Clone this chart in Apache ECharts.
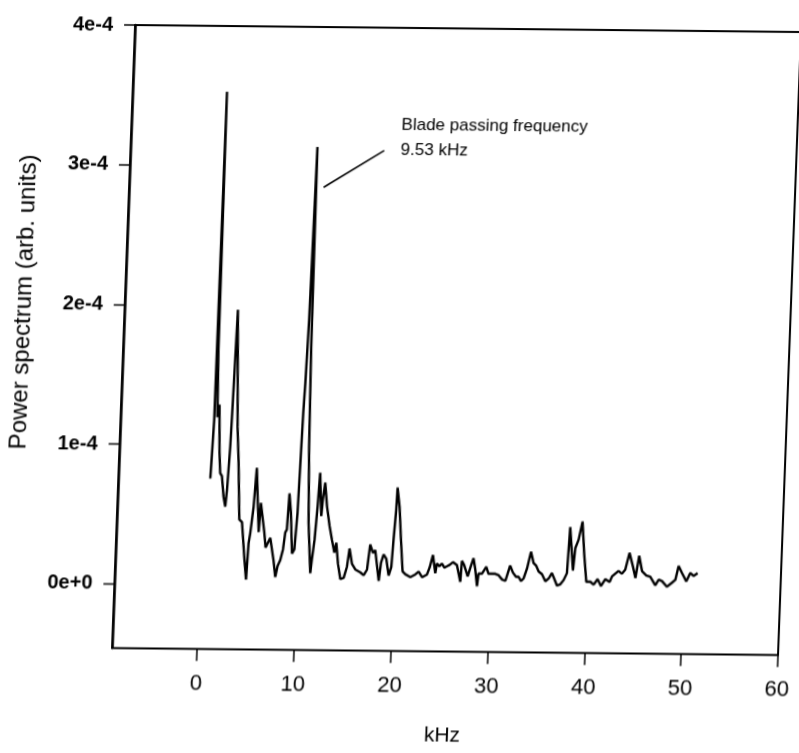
<!DOCTYPE html>
<html><head><meta charset="utf-8">
<script src="https://cdn.jsdelivr.net/npm/echarts@6/dist/echarts.min.js"></script>
<style>
html,body{margin:0;padding:0;background:#fff;overflow:hidden}
#chart{width:799px;height:753px;transform-origin:112px 648px;transform:matrix(1,0.0105,-0.037,1,0,0);}
</style></head><body><div id="chart"></div>
<script>
// Frequency (kHz) of each spectrum point
const freqKHz = [
0.70,0.80,0.88,0.95,1.05,1.20,1.37,1.55,1.70,1.89,2.14,2.35,2.47,2.64,2.74,2.91,3.32,3.56,3.85,4.14,
4.54,4.77,4.90,5.03,5.28,5.47,5.73,5.90,6.02,6.48,6.67,7.12,7.54,7.78,7.98,8.23,8.48,8.65,8.80,8.94,
9.16,9.42,9.65,9.84,9.95,10.05,10.15,10.30,10.50,10.62,10.78,11.02,11.38,11.50,11.70,11.89,12.03,12.30,12.41,12.59,
12.86,13.20,13.50,13.79,13.96,14.21,14.51,14.85,15.15,15.35,15.66,16.02,16.54,16.90,17.23,17.47,17.78,18.01,18.48,18.65,
18.89,19.18,19.48,19.73,19.86,20.02,20.08,20.36,20.62,20.91,21.20,21.73,22.24,22.57,22.94,23.44,23.69,23.99,24.29,24.43,
24.71,24.95,25.21,25.48,25.74,26.08,26.50,26.91,27.00,27.25,27.65,27.89,28.19,28.41,28.65,28.76,29.11,29.54,29.79,30.14,
30.49,30.84,31.21,31.56,31.80,32.00,32.31,32.64,32.91,33.18,33.44,33.75,34.10,34.41,34.70,34.96,35.32,35.69,36.02,36.34,
36.72,36.91,37.25,37.57,37.89,38.06,38.50,38.66,38.97,39.31,39.60,39.92,40.34,40.69,41.08,41.45,41.88,42.33,42.56,42.88,
43.21,43.57,43.90,44.28,44.69,44.98,45.29,45.64,46.09,46.51,47.06,47.38,47.74,48.27,48.78,49.11,49.40,49.77,50.25,50.62,
50.99,51.39
];
// Power spectrum, in units of 1e-4 (arb. units)
const powerE4 = [
0.76,0.99,1.18,3.53,1.68,1.20,1.29,0.95,0.80,0.78,0.63,0.56,0.68,0.99,1.33,1.97,1.13,0.88,0.47,0.45,
0.18,0.04,0.30,0.37,0.56,0.84,0.56,0.38,0.59,0.38,0.27,0.34,0.18,0.06,0.14,0.18,0.26,0.38,0.40,0.66,
0.52,0.23,0.26,0.52,0.90,1.24,1.45,1.90,3.14,1.70,1.00,0.45,0.09,0.19,0.33,0.57,0.81,0.50,0.62,0.74,
0.57,0.43,0.33,0.24,0.31,0.16,0.05,0.06,0.14,0.27,0.16,0.12,0.10,0.08,0.12,0.30,0.24,0.26,0.04,0.17,
0.23,0.20,0.08,0.14,0.34,0.55,0.71,0.57,0.34,0.11,0.09,0.07,0.09,0.11,0.07,0.09,0.14,0.23,0.10,0.17,
0.15,0.17,0.14,0.15,0.16,0.18,0.16,0.04,0.19,0.16,0.08,0.14,0.21,0.13,0.01,0.10,0.10,0.15,0.10,0.10,
0.10,0.09,0.06,0.05,0.11,0.16,0.11,0.08,0.08,0.05,0.07,0.14,0.26,0.18,0.16,0.12,0.10,0.05,0.07,0.11,
0.05,0.02,0.03,0.06,0.11,0.44,0.13,0.29,0.35,0.48,0.25,0.05,0.05,0.03,0.07,0.02,0.07,0.05,0.09,0.11,
0.13,0.11,0.14,0.26,0.16,0.08,0.24,0.13,0.10,0.09,0.03,0.07,0.06,0.02,0.05,0.07,0.17,0.12,0.06,0.12,
0.10,0.12
];
const xTicks = [0, 10, 20, 30, 40, 50, 60];
const yTicks = [0, 1e-4, 2e-4, 3e-4, 4e-4];
const xRange = [-8.8, 60];
const yRange = [-4.6e-5, 4e-4];
const xTitle = 'kHz';
const yTitle = 'Power spectrum (arb. units)';
const noteLines = ['Blade passing frequency', '9.53 kHz'];
const noteAnchor = [19.1, 3.39e-4];
const pointerEnds = [[11.29, 2.853e-4], [17.41, 3.12e-4]];

const FONT = "'Liberation Sans', Arial, sans-serif";

const seriesData = freqKHz.map((f, i) => [f, powerE4[i] * 1e-4]);

function yFmt(v) {
  const n = Math.round(v * 1e4);
  return n === 0 ? '0e+0' : n + 'e-4';
}

const chart = echarts.init(document.getElementById('chart'), null, {renderer: 'canvas'});
chart.setOption({
  animation: false,
  backgroundColor: '#fff',
  grid: {left: 112, top: 25, width: 666, height: 623, show: true,
         borderColor: '#000', borderWidth: 2, backgroundColor: 'transparent'},
  xAxis: {
    type: 'value', min: xRange[0], max: xRange[1],
    axisLine: {show: true, onZero: false, lineStyle: {color: '#000', width: 2}},
    axisTick: {show: true, customValues: xTicks, length: 12, lineStyle: {color: '#000', width: 1.5}},
    axisLabel: {customValues: xTicks, margin: 24, color: '#000', fontSize: 22, fontFamily: FONT},
    splitLine: {show: false},
    name: xTitle, nameLocation: 'middle', nameGap: 74,
    nameTextStyle: {color: '#000', fontSize: 21, fontFamily: FONT}
  },
  yAxis: {
    type: 'value', min: yRange[0], max: yRange[1],
    axisLine: {show: true, onZero: false, lineStyle: {color: '#000', width: 2.5}},
    axisTick: {show: true, customValues: yTicks, length: 11, lineStyle: {color: '#000', width: 1.5}},
    axisLabel: {customValues: yTicks, formatter: yFmt, margin: 22, color: '#000',
                fontSize: 20, fontWeight: 'bold', fontFamily: FONT},
    splitLine: {show: false}
  },
  series: [{
    type: 'line', data: seriesData, symbol: 'none', silent: true,
    lineStyle: {color: '#000', width: 2.4},
    markLine: {
      silent: true, symbol: ['none', 'none'], label: {show: false},
      lineStyle: {color: '#000', width: 1.6, type: 'solid'},
      data: [[{coord: pointerEnds[0]}, {coord: pointerEnds[1]}]]
    },
    markPoint: {
      silent: true, symbol: 'circle', symbolSize: 0,
      itemStyle: {color: 'rgba(0,0,0,0)'},
      label: {show: true, position: [0, 0], align: 'left', verticalAlign: 'top',
              formatter: () => noteLines.join('\n'), color: '#000',
              fontSize: 17, lineHeight: 25, fontFamily: FONT},
      data: [{coord: noteAnchor}]
    }
  }],
  graphic: [{
    type: 'text', x: 11, y: 303, rotation: Math.PI / 2, silent: true,
    style: {text: yTitle, fill: '#000', font: '24px ' + FONT,
            textAlign: 'center', textVerticalAlign: 'middle'}
  }]
});
</script>
</body></html>
